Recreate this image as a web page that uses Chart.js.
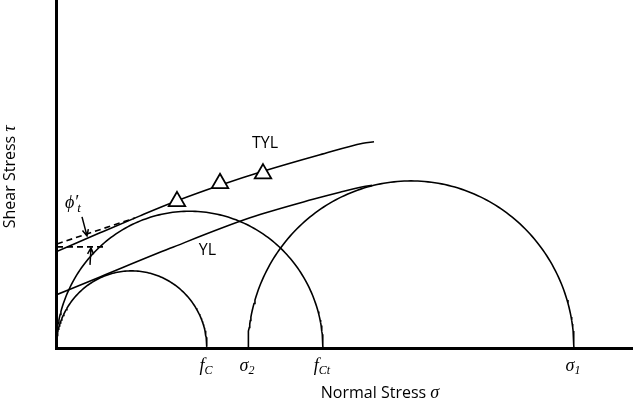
<!DOCTYPE html>
<html>
<head>
<meta charset="utf-8">
<script src="https://cdn.jsdelivr.net/npm/chart.js@4.4.1/dist/chart.umd.min.js"></script>
<style>
  html, body { margin: 0; padding: 0; background: #fff; }
  #wrap { width: 633px; height: 402px; }
</style>
</head>
<body>
<div id="wrap"><canvas id="mohr"></canvas></div>
<script>
// stress values (x = normal stress, y = shear stress)
const fC = 151;
const fCt = 267;
const sigma2 = 192;
const sigma1 = 518;

// x axis marks
const tickValues = [fC, sigma2, fCt, sigma1];
const tickLabels = [['f', 'C'], ['σ', '2'], ['f', 'Ct'], ['σ', '1']];

// axis titles: plain part + italic symbol
const xTitle = ['Normal Stress ', 'σ'];
const yTitle = ['Shear Stress ', 'τ'];

// Mohr circles, [left stress, right stress]
const circles = [[0, fC], [0, fCt], [sigma2, sigma1]];

// TYL envelope
const tylX = [0, 44, 84, 121, 164, 207, 264, 307, 318];
const tylY = [94, 112.5, 129, 143.6, 158.7, 172.3, 188.4, 199.6, 201.1];

// test points on TYL
const triX = [121, 164, 207];
const triY = [143.1, 160.7, 170.1];

// YL envelope
const ylX = [0, 44, 114, 194, 257, 284, 307, 316];
const ylY = [52.1, 69.6, 97.4, 127.1, 145.1, 152, 157.3, 158.7];

// dashed construction lines for phi't
const slopeDashX = [1, 79];
const slopeDashY = [101.7, 127];
const flatDashX = [1, 51];
const flatDashY = [98.8, 98.8];

// arrows [x0, y0, x1, y1], head at the end
const arrows = [[26, 128, 31, 109.5], [34, 81.3, 35, 97.9]];

const xMax = 577;
const yMax = 338;

const toPoints = (xs, ys) => xs.map((v, i) => ({ x: v, y: ys[i] }));

function circlePoints(left, right) {
  const c = (left + right) / 2, r = (right - left) / 2;
  const pts = [];
  for (let i = 0; i <= 150; i++) {
    const a = Math.PI - Math.PI * i / 150;
    pts.push({ x: c + r * Math.cos(a), y: r * Math.sin(a) });
  }
  return pts;
}

const lineStyle = {
  showLine: true,
  pointRadius: 0,
  borderColor: '#000',
  borderWidth: 1.6,
  fill: false
};

const datasets = [
  {
    label: 'tests',
    data: toPoints(triX, triY),
    showLine: false,
    pointStyle: 'triangle',
    pointRadius: 9.5,
    backgroundColor: '#fff',
    borderColor: '#000',
    borderWidth: 1.8
  },
  Object.assign({ label: 'TYL', data: toPoints(tylX, tylY), cubicInterpolationMode: 'monotone' }, lineStyle),
  Object.assign({ label: 'YL', data: toPoints(ylX, ylY), cubicInterpolationMode: 'monotone' }, lineStyle),
  Object.assign({ label: 'dash1', data: toPoints(slopeDashX, slopeDashY), borderDash: [6, 4] }, lineStyle),
  Object.assign({ label: 'dash2', data: toPoints(flatDashX, flatDashY), borderDash: [6, 4] }, lineStyle)
];
circles.forEach((c, i) => {
  datasets.push(Object.assign({ label: 'circle' + i, data: circlePoints(c[0], c[1]) }, lineStyle));
});

function drawSub(ctx, main, sub, cx, base, size) {
  const mainFont = 'italic ' + size + 'px "Liberation Serif"';
  const subFont = 'italic ' + Math.round(size * 0.68) + 'px "Liberation Serif"';
  ctx.font = mainFont;
  const w1 = ctx.measureText(main).width;
  ctx.font = subFont;
  const w2 = ctx.measureText(sub).width;
  let x = cx - (w1 + w2) / 2;
  ctx.textAlign = 'left';
  ctx.textBaseline = 'alphabetic';
  ctx.font = mainFont;
  ctx.fillText(main, x, base);
  ctx.font = subFont;
  ctx.fillText(sub, x + w1, base + size * 0.22);
}

// title text with an italic serif symbol at the end, centred on (0,0) baseline
function drawTitle(ctx, parts) {
  const plain = '16px "Open Sans"';
  const sym = 'italic 18px "Liberation Serif"';
  ctx.font = plain;
  const w1 = ctx.measureText(parts[0]).width;
  ctx.font = sym;
  const w2 = ctx.measureText(parts[1]).width;
  const x = -(w1 + w2) / 2;
  ctx.textAlign = 'left';
  ctx.textBaseline = 'alphabetic';
  ctx.font = plain;
  ctx.fillText(parts[0], x, 0);
  ctx.font = sym;
  ctx.fillText(parts[1], x + w1, 0);
}

// labels, arrows and axis marks placed through the chart scales
const annotations = {
  id: 'annotations',
  afterDatasetsDraw(chart) {
    const { ctx, scales: { x, y }, chartArea } = chart;
    ctx.save();
    ctx.fillStyle = '#000';
    ctx.strokeStyle = '#000';

    tickValues.forEach((v, i) => {
      drawSub(ctx, tickLabels[i][0], tickLabels[i][1], x.getPixelForValue(v) - 1, chartArea.bottom + 22, 18);
    });

    // axis titles
    ctx.save();
    ctx.translate(380, chartArea.bottom + 49.5);
    drawTitle(ctx, xTitle);
    ctx.restore();
    ctx.save();
    ctx.translate(15, (chartArea.top + chartArea.bottom) / 2 + 2);
    ctx.rotate(-Math.PI / 2);
    drawTitle(ctx, yTitle);
    ctx.restore();

    ctx.font = '16px "Open Sans"';
    ctx.textAlign = 'center';
    ctx.textBaseline = 'middle';
    ctx.fillText('TYL', x.getPixelForValue(209), y.getPixelForValue(199.6));
    ctx.fillText('YL', x.getPixelForValue(151.5), y.getPixelForValue(94.9));

    // phi'_t
    ctx.font = 'italic 18px "Liberation Serif"';
    ctx.textAlign = 'left';
    ctx.textBaseline = 'alphabetic';
    const px = x.getPixelForValue(9), py = y.getPixelForValue(136.8);
    ctx.fillText('ϕ′', px, py);
    const w = ctx.measureText('ϕ′').width;
    ctx.font = 'italic 13px "Liberation Serif"';
    ctx.fillText('t', px + w - 1, py + 4);

    ctx.lineWidth = 1.5;
    arrows.forEach(a => {
      const x0 = x.getPixelForValue(a[0]), y0 = y.getPixelForValue(a[1]);
      const x1 = x.getPixelForValue(a[2]), y1 = y.getPixelForValue(a[3]);
      const ang = Math.atan2(y1 - y0, x1 - x0);
      ctx.beginPath();
      ctx.moveTo(x0, y0);
      ctx.lineTo(x1, y1);
      ctx.moveTo(x1 - 7 * Math.cos(ang - 0.45), y1 - 7 * Math.sin(ang - 0.45));
      ctx.lineTo(x1, y1);
      ctx.lineTo(x1 - 7 * Math.cos(ang + 0.45), y1 - 7 * Math.sin(ang + 0.45));
      ctx.stroke();
    });
    ctx.restore();
  }
};

Chart.defaults.font.family = '"Open Sans", sans-serif';
Chart.defaults.color = '#000';

new Chart(document.getElementById('mohr'), {
  type: 'scatter',
  data: { datasets: datasets },
  options: {
    responsive: true,
    maintainAspectRatio: false,
    animation: false,
    layout: { autoPadding: false, padding: { top: 1, right: 0, bottom: 53.5, left: 56 } },
    plugins: { legend: { display: false }, tooltip: { enabled: false } },
    scales: {
      x: {
        type: 'linear',
        min: 0,
        max: xMax,
        ticks: { display: false },
        grid: { display: true, drawOnChartArea: false, drawTicks: false },
        border: { display: true, color: '#000', width: 3 }
      },
      y: {
        type: 'linear',
        min: 0,
        max: yMax,
        ticks: { display: false },
        grid: { display: true, drawOnChartArea: false, drawTicks: false },
        border: { display: true, color: '#000', width: 3 }
      }
    }
  },
  plugins: [annotations]
});
</script>
</body>
</html>
